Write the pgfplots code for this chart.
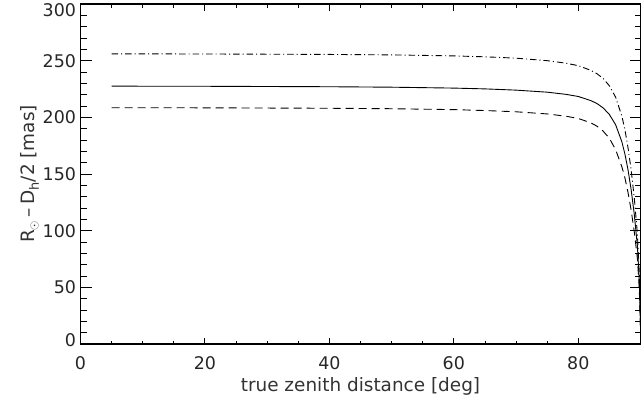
\documentclass[border=0pt]{standalone}
\usepackage{fontspec}
\setmainfont{DejaVu Sans}
\usepackage{pgfplots}
\pgfplotsset{compat=1.18}

\pgfplotsset{frame/.style={
  scale only axis,
  width=560bp, height=340bp,
  xmin=0, xmax=90, ymin=0, ymax=300,
  tick pos=both, tick align=inside,
  axis line style={line width=1.1pt},
  every tick/.style={black, line width=0.9pt},
  /pgf/number format/assume math mode=true,
  tick label style={font=\fontsize{17.5}{20}\selectfont, black!85},
  label style={font=\fontsize{18.5}{21}\selectfont, black!80},
}}

\begin{document}
\begin{tikzpicture}
% y ticks (long, as the plot is wide) and the curves
\begin{axis}[
  frame, name=ax,
  xtick=\empty, ytick={0,50,...,300}, minor y tick num=4,
  major tick length=11bp, minor tick length=6bp,
  yticklabel style={xshift=-1bp,
    yshift={ifthenelse(\tick>299,-6,ifthenelse(\tick<1,4,0))}},
  ylabel={R$_\odot$\,--\,D$_\mathrm{h}$/2 [mas]},
  ylabel style={yshift=-3bp},
]
% solid
\addplot[black, line width=0.9pt] coordinates {
 (5,227.5) (20,227.4) (40,227.0) (50,226.6) (60,225.8) (65,225.1) (70,224.0)
 (75,222.2) (78,220.3) (80,218.4) (82,214.8) (83,212.2) (84,208.3) (85,202.5)
 (86,193.5) (87,178.5) (87.5,167.5) (88,153.5) (88.5,136.0) (89,114.5)
 (89.5,86.5) (89.8,56.0) (90,15.0)};
% dashed
\addplot[black, line width=0.9pt, dash pattern=on 8bp off 5bp] coordinates {
 (5,208.5) (20,208.4) (40,208.0) (50,207.6) (60,206.8) (65,206.0) (70,204.9)
 (75,203.0) (78,201.0) (80,199.0) (82,195.2) (83,192.2) (84,187.8) (85,181.5)
 (86,171.5) (87,156.5) (87.5,146.5) (88,133.5) (88.5,118.0) (89,99.0)
 (89.5,75.5) (89.8,49.0) (90,13.0)};
% dash-dot
\addplot[black, line width=0.9pt, dash pattern=on 6.5bp off 3bp on 1bp off 3bp] coordinates {
 (5,256.0) (20,255.9) (40,255.5) (50,255.1) (60,254.2) (65,253.4) (70,252.2)
 (75,250.0) (78,247.8) (80,245.6) (82,241.5) (83,238.5) (84,234.3) (85,227.8)
 (86,217.8) (87,201.2) (87.5,189.0) (88,173.0) (88.5,153.5) (89,129.0)
 (89.5,97.5) (89.8,63.0) (90,17.0)};
\end{axis}
% x ticks (short, as the plot is low)
\begin{axis}[
  frame,
  ytick=\empty, xtick={0,20,40,60,80}, minor x tick num=3,
  major tick length=6.5bp, minor tick length=3.5bp,
  xticklabel style={yshift=-9bp},
  xlabel={true zenith distance [deg]},
  xlabel style={yshift=-1bp},
]
\end{axis}
\pgfresetboundingbox
\path (ax.south west) ++(-80.5bp,-61bp) rectangle ([shift={(1.5bp,4bp)}]ax.north east);
\end{tikzpicture}
\end{document}
